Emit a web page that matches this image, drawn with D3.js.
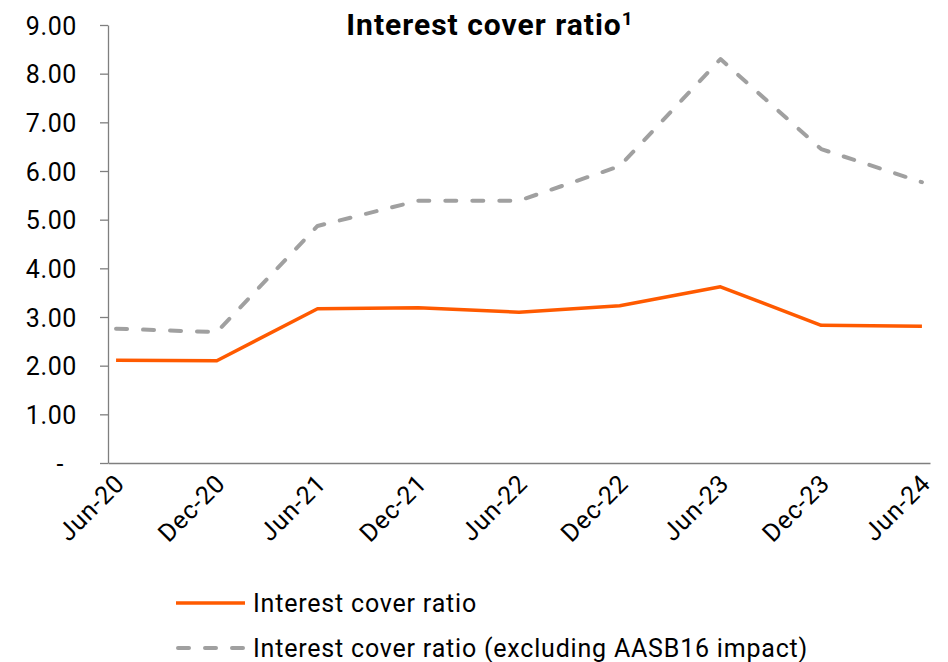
<!DOCTYPE html>
<html>
<head>
<meta charset="utf-8">
<script src="https://cdn.jsdelivr.net/npm/d3@7"></script>
<style>
  body { margin: 0; background: #fff; }
  svg text { font-family: Roboto, "Noto Sans", sans-serif; fill: #000; }
  .axis path, .axis line { stroke: #7f7f7f; stroke-width: 1.3; }
</style>
</head>
<body>
<script>
let periods = ['Jun-20','Dec-20','Jun-21','Dec-21','Jun-22','Dec-22','Jun-23','Dec-23','Jun-24'];
let icr = [2.11,2.10,3.17,3.19,3.10,3.23,3.62,2.83,2.81];
let icrExAasb = [2.76,2.69,4.87,5.39,5.39,6.10,8.30,6.45,5.77];
let yTicks = [0,1,2,3,4,5,6,7,8,9];

let width = 948, height = 662;

let svg = d3.select("body")
    .append("svg")
    .attr("width", width)
    .attr("height", height);

let x = d3.scalePoint()
    .domain(periods)
    .range([108, 930])
    .padding(0.08);

let y = d3.scaleLinear()
    .domain([0, 9])
    .range([463, 25]);

let yAxis = d3.axisLeft(y)
    .tickValues(yTicks)
    .tickSize(8)
    .tickSizeOuter(0)
    .tickFormat((d) => d === 0 ? "-" : d.toFixed(2));

let xAxis = d3.axisBottom(x).tickSize(0).tickSizeOuter(0).tickFormat("");

svg.append("g")
    .attr("class", "axis x")
    .attr("transform", `translate(0,${y(0)})`)
    .call(xAxis);

let yG = svg.append("g")
    .attr("class", "axis y")
    .attr("transform", "translate(108,0)")
    .call(yAxis);

yG.selectAll("text")
    .style("font-size", "25px")
    .style("letter-spacing", "0.6px")
    .attr("dy", "0.36em")
    .attr("x", (d) => d === 0 ? -44 : -31);

// rotated category labels
svg.append("g")
    .selectAll("text")
    .data(periods)
    .join("text")
    .attr("text-anchor", "end")
    .attr("transform", (d) => `translate(${x(d) + 10},${y(0) + 22}) rotate(-45)`)
    .style("font-size", "25px")
    .style("letter-spacing", "0.8px")
    .text((d) => d);

let line = d3.line()
    .x((d, i) => x(periods[i]))
    .y((d) => y(d));

svg.append("path")
    .attr("d", line(icrExAasb))
    .attr("fill", "none")
    .attr("stroke", "#a0a0a0")
    .attr("stroke-width", 4)
    .attr("stroke-linecap", "round")
    .attr("stroke-linejoin", "round")
    .attr("stroke-dasharray", "11,16");

svg.append("path")
    .attr("d", line(icr))
    .attr("fill", "none")
    .attr("stroke", "#ff5a00")
    .attr("stroke-width", 3.5)
    .attr("stroke-linejoin", "round");

// title
let title = svg.append("text")
    .attr("x", 490)
    .attr("y", 35)
    .attr("text-anchor", "middle")
    .style("font-size", "30px")
    .style("letter-spacing", "1px")
    .style("font-weight", "bold");
title.append("tspan").text("Interest cover ratio");
title.append("tspan")
    .attr("dy", -10)
    .style("font-size", "19px")
    .text("1");

// legend
let legendItems = [
    {name: "Interest cover ratio", color: "#ff5a00", dash: null, w: 3.5, cap: "butt"},
    {name: "Interest cover ratio (excluding AASB16 impact)", color: "#a0a0a0", dash: "11,16", w: 4, cap: "round"}
];

let legend = svg.append("g")
    .selectAll("g")
    .data(legendItems)
    .join("g")
    .attr("transform", (d, i) => `translate(176,${603 + i * 45})`);

legend.append("line")
    .attr("x1", (d) => d.cap === "round" ? 2 : 0)
    .attr("x2", 69)
    .attr("stroke", (d) => d.color)
    .attr("stroke-width", (d) => d.w)
    .attr("stroke-linecap", (d) => d.cap)
    .attr("stroke-dasharray", (d) => d.dash);

legend.append("text")
    .attr("x", 77)
    .attr("dy", "0.36em")
    .style("font-size", "25px")
    .style("letter-spacing", "0.8px")
    .text((d) => d.name);
</script>
</body>
</html>
